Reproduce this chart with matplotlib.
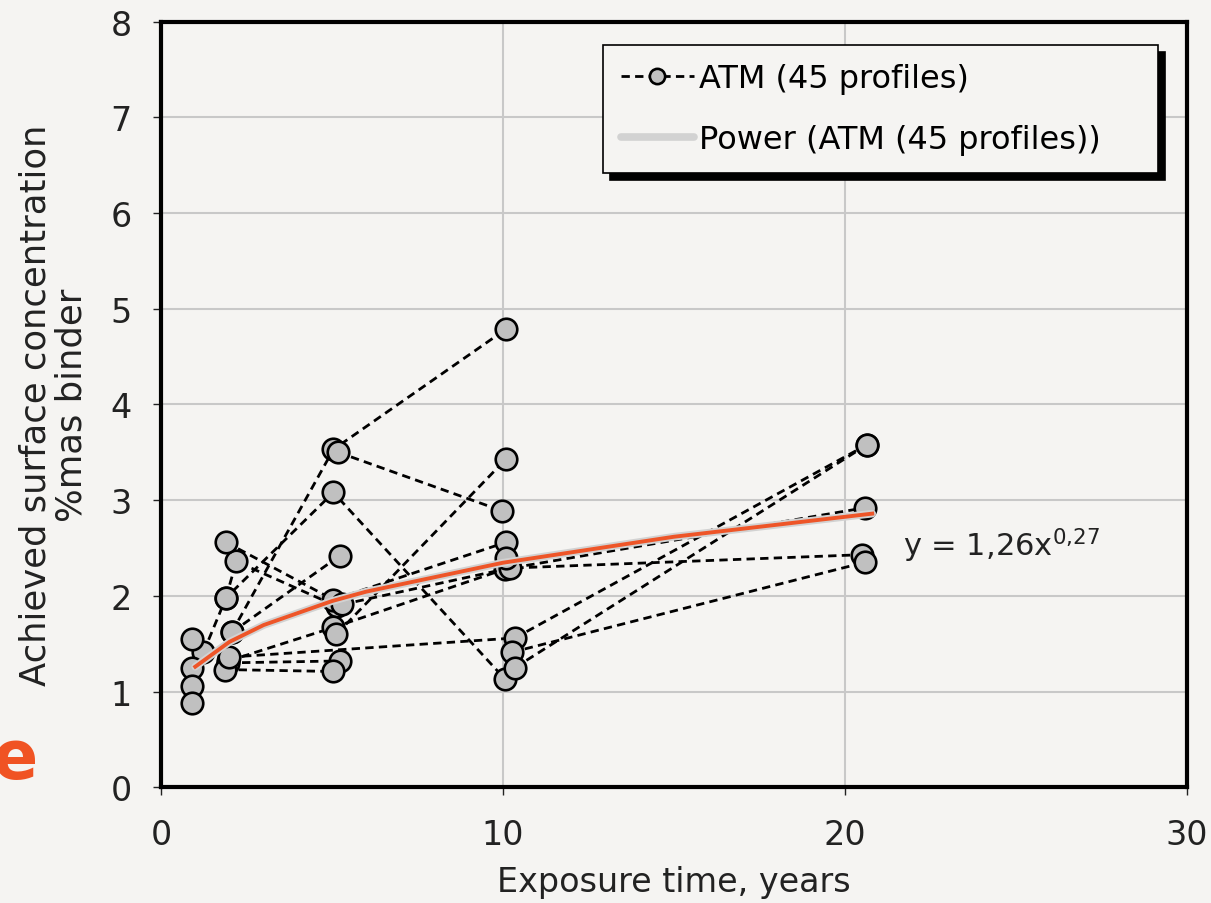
import matplotlib.pyplot as plt
import numpy as np

# ---------------- data ----------------
# each profile: exposure times (years) and achieved surface concentration (%mas binder)
profile_years = [
    [1.24, 1.9, 5.04, 10.06],
    [1.9, 2.2, 5.15],
    [1.9, 5.04, 10.09],
    [2.07, 5.04, 10.1],
    [2.07, 5.23],
    [5.18, 9.96],
    [1.97, 5.04, 10.06, 20.58],
    [1.97, 5.23],
    [1.87, 5.04],
    [2.0, 10.35, 20.65],
    [5.13, 10.09],
    [5.3, 10.2, 20.49],
    [10.09],
    [10.25, 20.58],
    [10.35, 20.65],
    [0.9], [0.9], [0.9], [0.9],
]
profile_values = [
    [1.41, 1.98, 3.08, 1.13],
    [1.98, 2.36, 1.89],
    [2.56, 1.96, 2.56],
    [1.62, 3.53, 4.79],
    [1.62, 2.42],
    [3.50, 2.89],
    [1.32, 1.67, 2.28, 2.92],
    [1.30, 1.32],
    [1.23, 1.21],
    [1.36, 1.56, 3.58],
    [1.60, 3.43],
    [1.91, 2.29, 2.43],
    [2.40],
    [1.41, 2.35],
    [1.25, 3.58],
    [1.55], [1.25], [1.06], [0.88],
]

# power trendline y = a * x^b as given on the chart
fit_a = 1.26
fit_b = 0.27
fit_x = [1.0, 2.0, 3.0, 5.0, 6.0, 10.0, 15.0, 20.8]

x_ticks = [0, 10, 20, 30]
y_ticks = [0, 1, 2, 3, 4, 5, 6, 7, 8]

# ---------------- plot ----------------
bg = '#f5f4f2'
txt = '#222222'
fig = plt.figure(figsize=(12.11, 9.04), dpi=100, facecolor=bg)
ax = fig.add_axes([0.133, 0.128, 0.847, 0.847], facecolor=bg)

# dashed profiles with grey markers
for i, (xs, ys) in enumerate(zip(profile_years, profile_values)):
    ax.plot(xs, ys, linestyle=(0, (3.0, 1.9)), color='black', linewidth=2.0,
            marker='o', markersize=15.5, markerfacecolor='#c0c0c0',
            markeredgecolor='black', markeredgewidth=1.9, zorder=3,
            label='ATM (45 profiles)' if i == 0 else None)

# trendline (grey, legend) and orange overlay
xf = np.array(fit_x)
yf = fit_a * xf ** fit_b
ax.plot(xf, yf, color='#d2d2d2', linewidth=5.5, solid_capstyle='round', zorder=4,
        label='Power (ATM (45 profiles))')
ax.plot(xf, yf, color='#ee5528', linewidth=2.8, zorder=5)

ax.text(21.7, 2.53, r'y = 1,26x$^{0{,}27}$', fontsize=22, ha='left', va='center',
        color=txt)

ax.set_xlim(0, 30)
ax.set_ylim(0, 8)
ax.set_xticks(x_ticks)
ax.set_yticks(y_ticks)
ax.tick_params(labelsize=24, direction='out', length=6, width=1, colors=txt)
ax.tick_params(axis='x', pad=16)
ax.tick_params(axis='y', pad=15)
ax.grid(True, color='#c8c8c8', linewidth=1.5, zorder=0)
ax.set_axisbelow(True)
for s in ax.spines.values():
    s.set_linewidth(3)
    s.set_color('black')

ax.set_xlabel('Exposure time, years', fontsize=24, color=txt, labelpad=10)
ax.set_ylabel('Achieved surface concentration\n%mas binder', fontsize=25.5,
              color=txt, labelpad=16, linespacing=1.05)

leg_kw = dict(loc='upper left', bbox_to_anchor=(0.431, 0.797, 0.541, 0.172),
              mode='expand', borderaxespad=0,
              fontsize=23, fancybox=False, framealpha=1, edgecolor='black',
              facecolor=bg, handlelength=2.3, handletextpad=0.15,
              labelspacing=0.95, borderpad=0.55)
try:
    leg = ax.legend(shadow={'color': 'black', 'alpha': 1, 'ox': 5, 'oy': -5}, **leg_kw)
except Exception:
    leg = ax.legend(shadow={'color': 'black', 'alpha': 1}, **leg_kw)
leg.get_frame().set_linewidth(1.2)
for h in leg.legend_handles:
    h.set_markersize(11)

# orange letter cut at the left edge (from the slide)
fig.text(37 / 1211, 1 - 760 / 904, 'e', fontsize=48, fontweight='bold',
         color='#f05323', ha='right', va='center')

fig.savefig('out.png', dpi=100, facecolor=bg)
